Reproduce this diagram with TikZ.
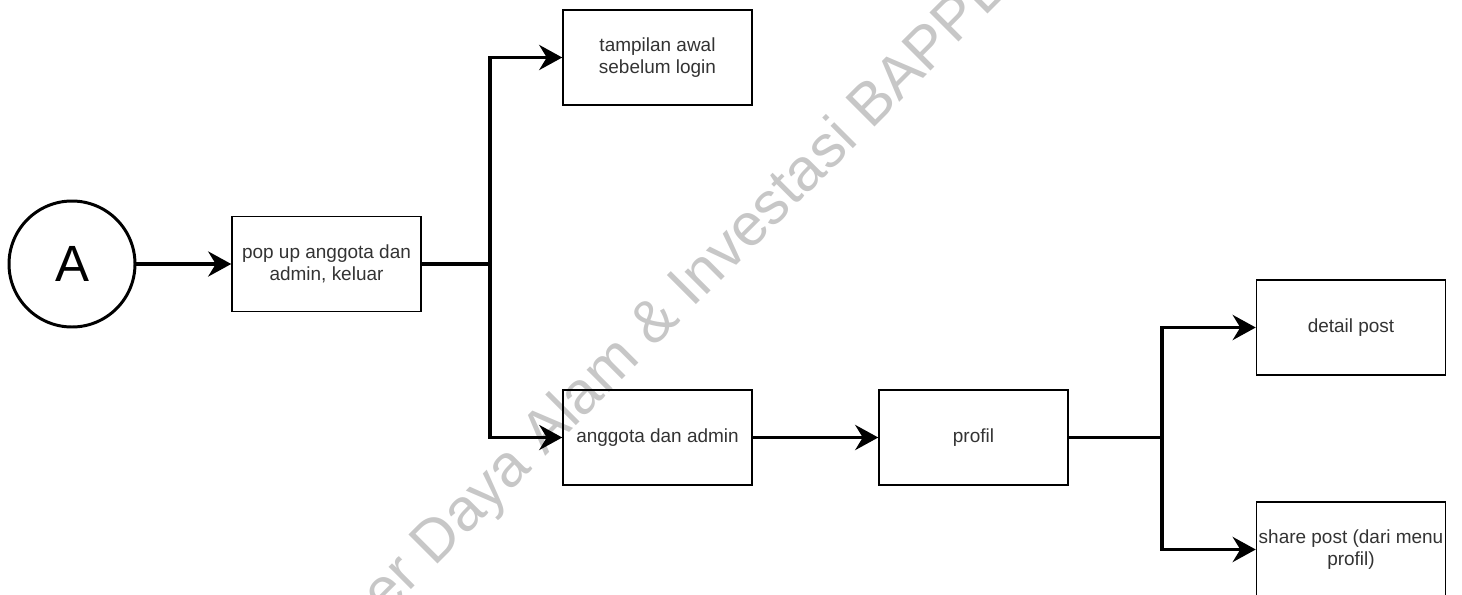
\documentclass[tikz,border=0pt]{standalone}
\usepackage{fontspec}
\setmainfont{Liberation Sans}
\usetikzlibrary{arrows.meta}

\tikzset{
  box/.style = {draw, line width = 0.85pt, minimum width = 3.78cm,
    minimum height = 1.9cm, inner sep = 0pt, align = center,
    text = black!80, font = \fontsize{10.8}{12.5}\selectfont},
  link/.style = {line width = 2.2pt},
  flow/.style = {link, -{Stealth[length = 4.6mm, width = 5mm, inset = 1.5mm]}},
}

\begin{document}
\begin{tikzpicture}
            \useasboundingbox (0,0) rectangle (29.24, 11.88);

            \node [rotate = 45, text = black!22, font = \fontsize{34}{34}\selectfont]
            (wm) at (13.76, 6.04) {er Daya Alam \& Investasi BAPPE};

            \node [draw, circle, line width = 1.7pt, minimum size = 2.52cm,
            font = \fontsize{29}{29}\selectfont] (A) at (1.44, 6.6) {A};

            \node [box] (popup) at (6.53, 6.6) {pop up anggota dan\\admin, keluar};
            \node [box] (awal) at (13.15, 10.73) {tampilan awal\\sebelum login};
            \node [box] (anggota) at (13.15, 3.13) {anggota dan admin};
            \node [box] (profil) at (19.47, 3.13) {profil};
            \node [box] (detail) at (27.02, 5.33) {detail post};
            \node [box] (share) at (27.02, 0.89) {share post (dari menu\\profil)};

            \coordinate (j1) at (9.8, 6.6);
            \coordinate (j2) at (23.24, 3.13);

            \draw [flow] (A) -- (popup);
            \draw [link] (popup) -- (j1);
            \draw [flow] (j1) |- (awal);
            \draw [flow] (j1) |- (anggota);
            \draw [flow] (anggota) -- (profil);
            \draw [link] (profil) -- (j2);
            \draw [flow] (j2) |- (detail);
            \draw [flow] (j2) |- (share);
\end{tikzpicture}
\end{document}
